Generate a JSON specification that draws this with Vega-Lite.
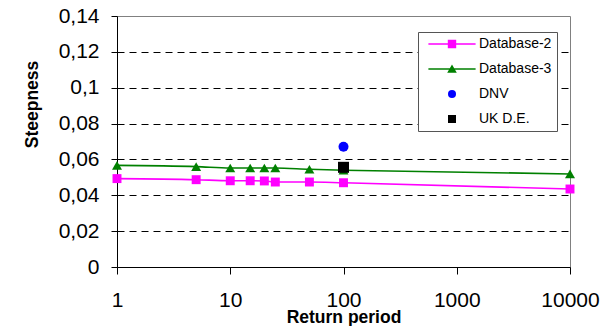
{
  "$schema": "https://vega.github.io/schema/vega-lite/v6.json",
  "width": 453,
  "height": 251,
  "autosize": {"type": "none"},
  "padding": {"left": 117, "top": 16, "right": 44, "bottom": 59},
  "background": "white",
  "config": {
    "view": {"stroke": "#808080", "strokeWidth": 1},
    "font": "Liberation Sans"
  },
  "data": {
    "values": [
      {"series": "Database-2", "period": 1, "steepness": 0.0493},
      {"series": "Database-2", "period": 5, "steepness": 0.0487},
      {"series": "Database-2", "period": 10, "steepness": 0.0481},
      {"series": "Database-2", "period": 15, "steepness": 0.0481},
      {"series": "Database-2", "period": 20, "steepness": 0.048},
      {"series": "Database-2", "period": 25, "steepness": 0.0474},
      {"series": "Database-2", "period": 50, "steepness": 0.0474},
      {"series": "Database-2", "period": 100, "steepness": 0.047},
      {"series": "Database-2", "period": 10000, "steepness": 0.0435},
      {"series": "Database-3", "period": 1, "steepness": 0.0567},
      {"series": "Database-3", "period": 5, "steepness": 0.056},
      {"series": "Database-3", "period": 10, "steepness": 0.0552},
      {"series": "Database-3", "period": 15, "steepness": 0.0552},
      {"series": "Database-3", "period": 20, "steepness": 0.0552},
      {"series": "Database-3", "period": 25, "steepness": 0.0552},
      {"series": "Database-3", "period": 50, "steepness": 0.0545},
      {"series": "Database-3", "period": 100, "steepness": 0.054},
      {"series": "Database-3", "period": 10000, "steepness": 0.0519},
      {"series": "DNV", "period": 100, "steepness": 0.0671},
      {"series": "UK D.E.", "period": 100, "steepness": 0.0556}
    ]
  },
  "encoding": {
    "x": {
      "field": "period",
      "type": "quantitative",
      "scale": {"type": "log", "domain": [1, 10000], "nice": false},
      "axis": {
        "title": "Return period",
        "values": [1, 10, 100, 1000, 10000],
        "format": "d",
        "grid": false,
        "labelFlush": false,
        "labelOverlap": false,
        "labelFontSize": 21,
        "labelColor": "black",
        "labelPadding": 15,
        "tickSize": 7,
        "tickColor": "black",
        "domainColor": "black",
        "titleFontSize": 17.5,
        "titleFontWeight": "bold",
        "titleColor": "black",
        "titleY": 55,
        "titleBaseline": "alphabetic"
      }
    },
    "y": {
      "field": "steepness",
      "type": "quantitative",
      "scale": {"domain": [0, 0.14], "nice": false, "zero": true},
      "axis": {
        "title": "Steepness",
        "values": [0, 0.02, 0.04, 0.06, 0.08, 0.1, 0.12, 0.14],
        "labelExpr": "replace(format(datum.value, '.2~f'), '.', ',')",
        "grid": true,
        "gridColor": "black",
        "gridDash": [7, 5],
        "gridWidth": 1,
        "gridOpacity": {"condition": {"test": "datum.value === 0 || datum.value > 0.139", "value": 0}, "value": 1},
        "labelOverlap": false,
        "labelFontSize": 21,
        "labelColor": "black",
        "labelPadding": 12,
        "tickSize": 6,
        "tickColor": "black",
        "domainColor": "black",
        "titleFontSize": 17.5,
        "titleFontWeight": "bold",
        "titleColor": "black",
        "titleAngle": -90,
        "titleX": -80,
        "titleY": 88,
        "titleAlign": "center",
        "titleBaseline": "alphabetic"
      }
    }
  },
  "layer": [
    {
      "transform": [{"filter": "datum.series === 'Database-2' || datum.series === 'Database-3'"}],
      "mark": {"type": "line", "interpolate": "monotone", "strokeWidth": 1.6},
      "encoding": {
        "stroke": {
          "field": "series",
          "type": "nominal",
          "scale": {"domain": ["Database-2", "Database-3"], "range": ["#FF00FF", "#008000"]},
          "legend": null
        }
      }
    },
    {
      "encoding": {
        "color": {
          "field": "series",
          "type": "nominal",
          "scale": {
            "domain": ["Database-2", "Database-3", "DNV", "UK D.E."],
            "range": ["#FF00FF", "#008000", "#0000FF", "#000000"]
          },
          "legend": {
            "title": null,
            "orient": "none",
            "legendX": 301,
            "legendY": 16,
            "padding": 5,
            "fillColor": "white",
            "strokeColor": "#555555",
            "labelFontSize": 14,
            "labelColor": "black",
            "labelFont": "Liberation Sans",
            "symbolSize": 64,
            "symbolOffset": 22,
            "labelOffset": 20,
            "rowPadding": 11,
            "symbolStrokeWidth": 0,
            "encoding": {
              "symbols": {
                "shape": {"value": {"expr": "datum.value === 'Database-2' ? 'M-5.9,-0.18H5.9V0.18H-5.9ZM-1.05,-1.05H1.05V1.05H-1.05Z' : datum.value === 'Database-3' ? 'M-5.9,-0.18H5.9V0.18H-5.9ZM0,-1.15L1.2,0.95H-1.2Z' : datum.value === 'DNV' ? 'circle' : 'square'"}},
                "strokeWidth": {"value": 0},
                "opacity": {"value": 1}
              }
            }
          }
        }
      },
      "layer": [
        {
          "transform": [{"filter": "datum.series === 'Database-2'"}],
          "mark": {"type": "point", "filled": true, "opacity": 1, "shape": "square", "size": 80}
        },
        {
          "transform": [{"filter": "datum.series === 'Database-3'"}],
          "mark": {"type": "point", "filled": true, "opacity": 1, "shape": "triangle-up", "size": 100}
        },
        {
          "transform": [{"filter": "datum.series === 'DNV'"}],
          "mark": {"type": "point", "filled": true, "opacity": 1, "shape": "circle", "size": 100}
        },
        {
          "transform": [{"filter": "datum.series === 'UK D.E.'"}],
          "mark": {"type": "point", "filled": true, "opacity": 1, "shape": "square", "size": 121}
        }
      ]
    }
  ]
}
